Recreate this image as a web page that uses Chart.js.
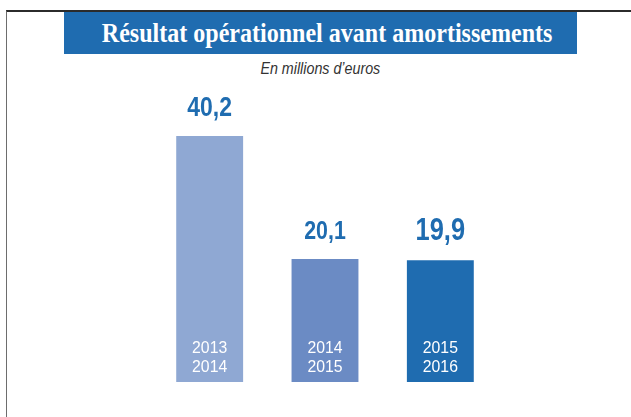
<!DOCTYPE html>
<html>
<head>
<meta charset="utf-8">
<script src="https://cdn.jsdelivr.net/npm/chart.js@4"></script>
<style>
  html, body { margin: 0; padding: 0; background: #fff; }
  #wrap { position: relative; width: 631px; height: 417px; overflow: hidden; }
  #frame { position: absolute; left: 6px; top: 10px; width: 640px; height: 420px;
           border-top: 2px solid #2b2b2b; border-left: 1px solid #6d6d6d; box-sizing: border-box; }
  #banner { position: absolute; left: 64px; top: 12px; width: 513px; height: 42px; background: #1f6cb0;
            color: #fff; font-family: "Liberation Serif", serif; font-weight: bold; font-size: 27px;
            line-height: 42px; text-align: center; }
  #banner span { display: inline-block; transform: translateX(7px) scaleX(0.89); transform-origin: center; white-space: nowrap; }
  #sub { position: absolute; left: 0; width: 640px; top: 59px; text-align: center;
         font-family: "Liberation Sans", sans-serif; font-style: italic;
         font-size: 17px; color: #333; }
  #sub span { display: inline-block; transform: scaleX(0.84); transform-origin: center; white-space: nowrap; }
  canvas { position: absolute; left: 0; top: 0; }
</style>
</head>
<body>
<div id="wrap">
  <div id="frame"></div>
  <div id="banner"><span>Résultat opérationnel avant amortissements</span></div>
  <div id="sub"><span>En millions d’euros</span></div>
  <canvas id="c" width="631" height="417"></canvas>
</div>
<script>
// exercices et valeurs (millions d'euros)
const periods = [["2013", "2014"], ["2014", "2015"], ["2015", "2016"]];
const values = [40.2, 20.1, 19.9];
const valueLabels = ["40,2", "20,1", "19,9"];
const barColors = ["#8fa8d3", "#6b8bc4", "#1f6cb0"];
const labelSizes = [28, 26, 31];

const labelsPlugin = {
    id: 'barLabels',
    afterDatasetsDraw(chart) {
        const ctx = chart.ctx;
        const meta = chart.getDatasetMeta(0);
        const base = chart.scales.y.getPixelForValue(0);
        meta.data.forEach((bar, i) => {
            // valeur au-dessus de la barre (police condensée)
            ctx.save();
            ctx.translate(bar.x, bar.y - 20);
            ctx.scale(0.82, 1);
            ctx.textAlign = 'center';
            ctx.fillStyle = '#1f6cb0';
            ctx.font = `bold ${labelSizes[i]}px "Liberation Sans", sans-serif`;
            ctx.fillText(valueLabels[i], 0, 0);
            ctx.restore();
            // période en bas de la barre
            ctx.save();
            ctx.translate(bar.x, base);
            ctx.scale(0.93, 1);
            ctx.textAlign = 'center';
            ctx.fillStyle = '#ffffff';
            ctx.font = '17px "Liberation Sans", sans-serif';
            ctx.fillText(periods[i][0], 0, -29);
            ctx.fillText(periods[i][1], 0, -10.5);
            ctx.restore();
        });
    }
};

new Chart(document.getElementById('c'), {
    type: 'bar',
    data: {
        labels: periods.map(p => p.join('/')),
        datasets: [{ data: values, backgroundColor: barColors, borderWidth: 0,
                     categoryPercentage: 1, barPercentage: 0.58 }]
    },
    options: {
        responsive: false,
        animation: false,
        layout: { padding: { left: 152, right: 133, top: 76, bottom: 35 } },
        plugins: { legend: { display: false }, tooltip: { enabled: false } },
        scales: {
            x: { display: false },
            y: { display: false, min: 0, max: 50 }
        }
    },
    plugins: [labelsPlugin]
});
</script>
</body>
</html>
